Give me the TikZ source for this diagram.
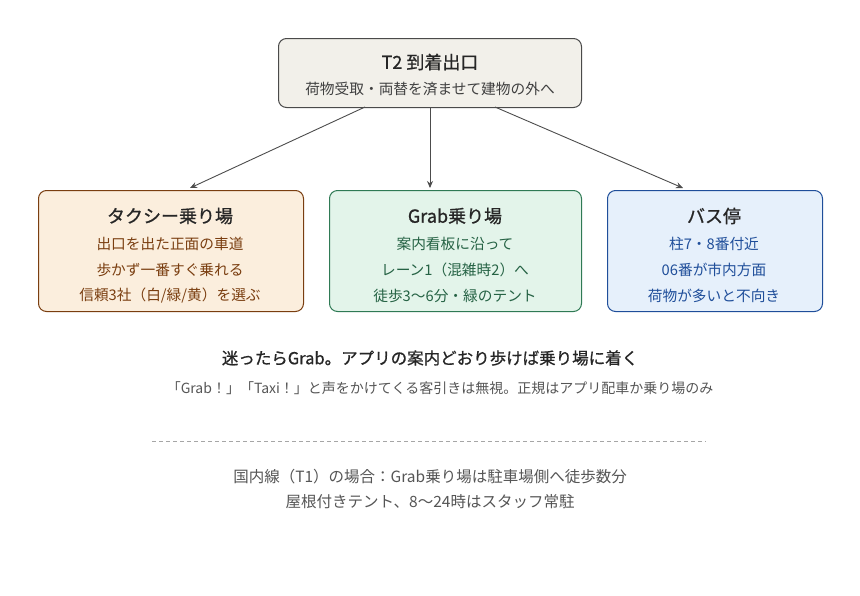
\documentclass[tikz,border=0pt]{standalone}
\usepackage{fontspec}
\setmainfont{Noto Sans CJK JP}
\newfontfamily\medfont[FakeBold=0.8]{Noto Sans CJK JP}
\usetikzlibrary{arrows.meta}
\definecolor{topfill}{HTML}{F2F0EA}
\definecolor{topline}{HTML}{4A4A4A}
\definecolor{taxifill}{HTML}{FBEEDD}
\definecolor{taxiline}{HTML}{7A3E10}
\definecolor{grabfill}{HTML}{E3F4EA}
\definecolor{grabline}{HTML}{2F7A55}
\definecolor{busfill}{HTML}{E6F0FB}
\definecolor{busline}{HTML}{1F4E9A}
\definecolor{note}{HTML}{555555}
\tikzset{
  box/.style={draw, rounded corners=8pt, line width=1pt, anchor=north west},
  ttl/.style={font=\fontsize{18}{20}\selectfont\medfont, text=black!85},
  sub/.style={font=\fontsize{14.7}{16}\selectfont},
  arr/.style={draw=black!70, line width=0.9pt, -{Stealth[length=7pt,width=6pt]}}
}
\begin{document}
\begin{tikzpicture}[x=1pt,y=-1pt]
        \useasboundingbox (0,0) rectangle (860,595);
        %
        \node (top) [box, fill=topfill, draw=topline, minimum width=303pt, minimum height=69pt] at (278,38) {};
        \node (toptitle) [ttl] at (430,62) {T2 到着出口};
        \node (topsub) [sub, text=black!75] at (430,89) {荷物受取・両替を済ませて建物の外へ};
        %
        \node (taxi) [box, fill=taxifill, draw=taxiline, minimum width=265pt, minimum height=121pt] at (38,190) {};
        \node (taxititle) [ttl] at (170,216) {タクシー乗り場};
        \node [sub, text=taxiline] at (170,244) {出口を出た正面の車道};
        \node [sub, text=taxiline] at (170,270) {歩かず一番すぐ乗れる};
        \node [sub, text=taxiline] at (170,296) {信頼3社（白/緑/黄）を選ぶ};
        %
        \node (grab) [box, fill=grabfill, draw=grabline, minimum width=252pt, minimum height=121pt] at (329,190) {};
        \node (grabtitle) [ttl] at (455,216) {Grab乗り場};
        \node [sub, text=grabline!80!black] at (455,244) {案内看板に沿って};
        \node [sub, text=grabline!80!black] at (455,270) {レーン1（混雑時2）へ};
        \node [sub, text=grabline!80!black] at (455,296) {徒歩3〜6分・緑のテント};
        %
        \node (bus) [box, fill=busfill, draw=busline, minimum width=215pt, minimum height=121pt] at (607,190) {};
        \node (bustitle) [ttl] at (714,216) {バス停};
        \node [sub, text=busline] at (714,244) {柱7・8番付近};
        \node [sub, text=busline] at (714,270) {06番が市内方面};
        \node [sub, text=busline] at (714,296) {荷物が多いと不向き};
        %
        \coordinate (t1) at (365,107);
        \coordinate (t2) at (430,107);
        \coordinate (t3) at (495,107);
        \coordinate (e1) at (190,188);
        \coordinate (e2) at (430,188);
        \coordinate (e3) at (683,188);
        \draw [arr] (t1) -- (e1);
        \draw [arr] (t2) -- (e2);
        \draw [arr] (t3) -- (e3);
        %
        \node (tip) [font=\fontsize{16.5}{18}\selectfont\medfont, text=black!85] at (430,358) {迷ったらGrab。アプリの案内どおり歩けば乗り場に着く};
        \node (warn) [font=\fontsize{14}{16}\selectfont, text=note] at (440,388) {「Grab！」「Taxi！」と声をかけてくる客引きは無視。正規はアプリ配車か乗り場のみ};
        \coordinate (d1) at (152,441);
        \coordinate (d2) at (706,441);
        \draw [black!35, dashed, dash pattern=on 4pt off 3pt] (d1) -- (d2);
        \node (dom1) [font=\fontsize{15.5}{17}\selectfont, text=note] at (430,477) {国内線（T1）の場合：Grab乗り場は駐車場側へ徒歩数分};
        \node (dom2) [font=\fontsize{15.5}{17}\selectfont, text=note] at (430,502) {屋根付きテント、8〜24時はスタッフ常駐};
\end{tikzpicture}
\end{document}
